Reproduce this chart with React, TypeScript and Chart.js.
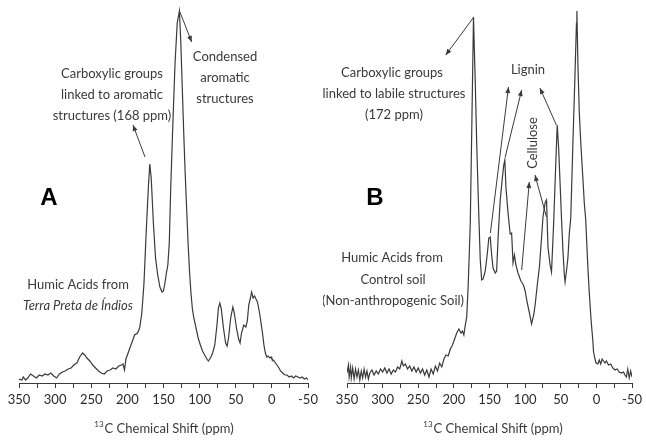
import React, { useEffect, useRef } from "react";
import { Chart, registerables } from "chart.js";

Chart.register(...registerables);

// ---- Panel A: Humic acids from Terra Preta de Índios ----
const ppmA = [350, 346, 344, 341, 338, 334, 330, 326, 322, 318, 314, 310, 306, 302, 298, 294, 290, 286, 282, 278, 274, 270, 266, 262, 259, 256, 252, 248, 244, 240, 236, 232, 228, 224, 220, 216, 212, 208, 206, 204, 202, 199, 196, 193, 190, 186, 183, 180, 177, 174, 171, 169, 167, 164, 161, 158, 155, 152, 150, 148, 146, 144, 142, 140, 137, 134, 131, 128, 126, 124, 122, 120, 118, 116, 114, 112, 110, 108, 105, 102, 99, 96, 93, 90, 88, 85, 82, 79, 76, 74, 72, 70, 67, 64, 62, 60, 57, 54, 52, 49, 46, 44, 42, 39, 36, 34, 32, 30, 28, 26, 24, 22, 20, 18, 16, 13, 11, 9, 7, 5, 3, 1, 0, -3, -6, -9, -12, -15, -18, -21, -24, -27, -30, -33, -36, -39, -42, -45, -48, -50];
const intA = [4, 3, 6, 3, 5, 9, 7, 5, 8, 7, 9, 8, 10, 7, 5, 9, 11, 12, 14, 15, 18, 20, 26, 30, 28, 25, 22, 18, 15, 12, 10, 9, 12, 13, 15, 14, 17, 18, 19, 13, 24, 30, 36, 42, 48, 50, 55, 70, 100, 150, 195, 219, 205, 160, 125, 108, 96, 91, 92, 100, 110, 118, 140, 195, 260, 320, 360, 372, 340, 295, 250, 210, 175, 140, 112, 90, 74, 65, 55, 45, 38, 32, 28, 24, 22, 25, 30, 38, 58, 75, 80, 74, 55, 40, 37, 45, 65, 76, 70, 55, 44, 40, 50, 58, 56, 62, 78, 84, 91, 85, 87, 84, 81, 74, 65, 50, 38, 30, 26, 27, 25, 26, 24, 22, 19, 16, 12, 10, 8, 8, 6, 7, 5, 7, 6, 5, 6, 4, 5, 3];

// ---- Panel B: Humic acids from control soil ----
const ppmB = [350, 348, 347, 345, 344, 342, 340, 338, 336, 334, 332, 330, 328, 326, 324, 322, 320, 318, 315, 312, 309, 306, 303, 300, 297, 294, 291, 288, 285, 282, 279, 276, 273, 271, 268, 265, 262, 259, 256, 253, 250, 247, 244, 241, 238, 235, 232, 229, 226, 223, 220, 217, 214, 211, 208, 205, 202, 199, 196, 193, 190, 188, 186, 184, 182, 180, 177, 175, 172.5, 170, 168, 166, 164, 163, 161, 159, 156, 153, 151, 149, 147, 145, 142, 140, 138, 135, 132, 130, 128.5, 127, 124, 121, 119, 117, 115, 113, 110, 108, 106, 104, 102, 100, 97, 94, 91, 88, 86, 83, 80, 77, 75, 72, 70, 68, 65, 63, 60, 57, 55, 53, 51, 49, 47, 45, 44, 42, 40, 38, 36, 33, 30, 28, 27.4, 26, 24, 22, 19, 17, 15, 12, 10, 7.5, 5, 4, 2, 0.5, -2, -4, -6, -8, -10, -12, -14, -17, -20, -23, -26, -29, -32, -35, -38, -40, -42, -44, -46, -48, -50];
const intB = [10, 18, 6, 16, 5, 15, 4, 14, 6, 13, 3, 12, 5, 14, 6, 12, 4, 10, 13, 8, 12, 9, 14, 11, 15, 10, 14, 9, 13, 11, 16, 14, 22, 17, 19, 14, 17, 12, 16, 11, 15, 10, 14, 8, 13, 6, 14, 9, 17, 12, 20, 16, 24, 28, 27, 34, 38, 44, 50, 54, 50, 52, 48, 58, 66, 96, 160, 250, 366, 300, 240, 190, 145, 123, 103, 104, 112, 130, 145, 146, 128, 115, 110, 112, 145, 183, 205, 218, 223, 196, 170, 149, 150, 120, 128, 118, 110, 106, 102, 100, 97, 92, 80, 70, 59, 68, 78, 98, 116, 145, 166, 180, 183, 136, 118, 111, 160, 220, 258, 235, 200, 165, 133, 108, 101, 112, 125, 150, 165, 240, 310, 360, 372, 320, 270, 241, 205, 180, 163, 116, 90, 63, 42, 31, 24, 20, 19, 23, 19, 24, 22, 20, 22, 18, 19, 15, 13, 14, 11, 10, 11, 8, 6, 14, 5, 12, 6];

const xTicksMin = -50;
const xTicksMax = 350;
const axisTitle = "C Chemical Shift (ppm)";
const axisTitleSup = "13";

type Txt = { t: string; x: number; y: number; italic?: boolean; bold?: boolean; size?: number; font?: string; rot?: number };
type Arrow = { from: [number, number]; to: [number, number] };

const textsA: Txt[] = [
  { t: "Carboxylic groups", x: 112, y: 74 },
  { t: "linked to aromatic", x: 112, y: 95 },
  { t: "structures (168 ppm)", x: 112, y: 116 },
  { t: "Condensed", x: 225, y: 57 },
  { t: "aromatic", x: 225, y: 78 },
  { t: "structures", x: 225, y: 99 },
  { t: "A", x: 49, y: 198, bold: true, size: 24, font: "'Liberation Sans', Arial, sans-serif" },
  { t: "Humic Acids from", x: 78, y: 285 },
  { t: "Terra Preta de Índios", x: 78, y: 306, italic: true },
];
const arrowsA: Arrow[] = [
  { from: [175.6, 226], to: [192.2, 258] },
  { from: [127.2, 371], to: [111, 341] },
];

const textsB: Txt[] = [
  { t: "Carboxylic groups", x: 69, y: 73 },
  { t: "linked to labile structures", x: 71, y: 94 },
  { t: "(172 ppm)", x: 71, y: 115 },
  { t: "Lignin", x: 205, y: 70 },
  { t: "Cellulose", x: 210, y: 143, rot: -Math.PI / 2 },
  { t: "B", x: 52, y: 198, bold: true, size: 24, font: "'Liberation Sans', Arial, sans-serif" },
  { t: "Humic Acids from", x: 69, y: 258 },
  { t: "Control soil", x: 70, y: 280 },
  { t: "(Non-anthropogenic Soil)", x: 70, y: 301 },
];
const arrowsB: Arrow[] = [
  { from: [172, 366], to: [211.4, 328] },
  { from: [148.8, 150], to: [123.4, 296] },
  { from: [128, 226], to: [104.9, 293] },
  { from: [56.2, 258], to: [79.3, 295] },
  { from: [104.9, 113], to: [94.2, 201] },
  { from: [70.1, 166], to: [86.2, 208] },
];

const FONT = "Lato, 'Open Sans', sans-serif";
const INK = "#3a3a3a";

function makeAnnot(texts: Txt[], arrows: Arrow[], titleX: number) {
  return {
    id: "annot",
    afterDraw(chart: any) {
      const ctx = chart.ctx as CanvasRenderingContext2D;
      const xs = chart.scales.x;
      const ys = chart.scales.y;
      ctx.save();
      ctx.fillStyle = INK;
      ctx.textAlign = "center";
      ctx.textBaseline = "middle";
      for (const tx of texts) {
        const size = tx.size || 13;
        ctx.font = `${tx.italic ? "italic " : ""}${tx.bold ? "bold " : ""}${size}px ${tx.font || FONT}`;
        ctx.fillStyle = tx.bold ? "#000" : INK;
        if (tx.rot) {
          ctx.save();
          ctx.translate(tx.x, tx.y);
          ctx.rotate(tx.rot);
          ctx.fillText(tx.t, 0, 0);
          ctx.restore();
        } else {
          ctx.fillText(tx.t, tx.x, tx.y);
        }
      }
      ctx.strokeStyle = INK;
      ctx.fillStyle = INK;
      ctx.lineWidth = 1;
      for (const a of arrows) {
        const x1 = xs.getPixelForValue(a.from[0]);
        const y1 = ys.getPixelForValue(a.from[1]);
        const x2 = xs.getPixelForValue(a.to[0]);
        const y2 = ys.getPixelForValue(a.to[1]);
        ctx.beginPath();
        ctx.moveTo(x1, y1);
        ctx.lineTo(x2, y2);
        ctx.stroke();
        const ang = Math.atan2(y2 - y1, x2 - x1);
        const L = 6, W = 2.5;
        ctx.beginPath();
        ctx.moveTo(x2, y2);
        ctx.lineTo(x2 - L * Math.cos(ang) + W * Math.sin(ang), y2 - L * Math.sin(ang) - W * Math.cos(ang));
        ctx.lineTo(x2 - L * Math.cos(ang) - W * Math.sin(ang), y2 - L * Math.sin(ang) + W * Math.cos(ang));
        ctx.closePath();
        ctx.fill();
      }
      ctx.fillStyle = INK;
      ctx.textAlign = "left";
      ctx.textBaseline = "alphabetic";
      ctx.font = `13px ${FONT}`;
      const w = ctx.measureText(axisTitle).width;
      ctx.font = `8px ${FONT}`;
      const ws = ctx.measureText(axisTitleSup).width;
      const total = w + ws + 1;
      const x0 = titleX - total / 2;
      ctx.fillText(axisTitleSup, x0, 427);
      ctx.font = `13px ${FONT}`;
      ctx.fillText(axisTitle, x0 + ws + 1, 433);
      ctx.restore();
    },
  };
}

function Panel({ ppm, vals, texts, arrows, padL, padR, titleX }: any) {
  const ref = useRef<HTMLCanvasElement>(null);
  useEffect(() => {
    if (!ref.current) return;
    const chart = new Chart(ref.current, {
      type: "line",
      data: {
        datasets: [
          {
            data: ppm.map((p: number, i: number) => ({ x: p, y: vals[i] })),
            borderColor: INK,
            borderWidth: 1.2,
            pointRadius: 0,
            tension: 0,
            fill: false,
          },
        ],
      },
      options: {
        responsive: false,
        animation: false,
        devicePixelRatio: 1,
        layout: { padding: { left: padL, right: padR, top: 5, bottom: 0 } },
        plugins: { legend: { display: false }, tooltip: { enabled: false }, title: { display: false } },
        scales: {
          x: {
            type: "linear",
            min: xTicksMin,
            max: xTicksMax,
            reverse: true,
            afterFit: (s: any) => {
              s.height = 60;
            },
            border: { display: true, color: INK, width: 1 },
            grid: { display: true, drawOnChartArea: false, drawTicks: true, tickLength: 5, color: INK, lineWidth: 1 },
            ticks: {
              stepSize: 25,
              autoSkip: false,
              maxRotation: 0,
              padding: 4,
              color: "#2a2a2a",
              font: { family: FONT, size: 13 },
              callback: (v: any) => (Number(v) % 50 === 0 ? String(v) : ""),
            },
          },
          y: { display: false, min: 0, max: 378 },
        },
      },
      plugins: [makeAnnot(texts, arrows, titleX)],
    } as any);
    return () => chart.destroy();
  }, []);
  return <canvas ref={ref} width={323} height={443} style={{ width: 323, height: 443, display: "block" }} />;
}

export default function App() {
  return (
    <div style={{ position: "absolute", left: 0, top: 0, width: 646, height: 443, background: "#fff", display: "flex" }}>
      <Panel ppm={ppmA} vals={intA} texts={textsA} arrows={arrowsA} padL={19} padR={15} titleX={164} />
      <Panel ppm={ppmB} vals={intB} texts={textsB} arrows={arrowsB} padL={24} padR={11} titleX={170} />
    </div>
  );
}
